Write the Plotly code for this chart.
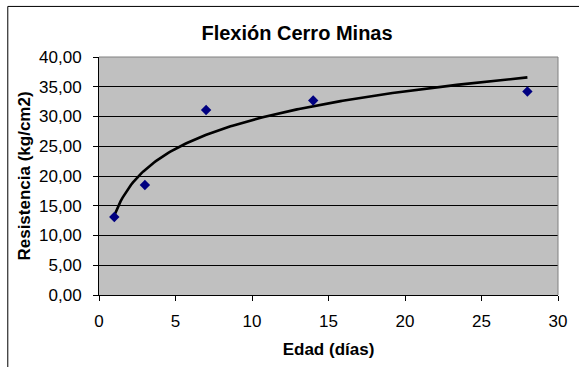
import numpy as np
import plotly.graph_objects as go

# Flexural strength test results, Cerro Minas
edad_dias = [1, 3, 7, 14, 28]
resistencia = [13.1, 18.5, 31.1, 32.7, 34.2]

x_ticks = [0, 5, 10, 15, 20, 25, 30]
y_ticks = [0, 5, 10, 15, 20, 25, 30, 35, 40]

# Logarithmic trend line y = a*ln(x) + b fitted to the measurements
a, b = np.polyfit(np.log(edad_dias), resistencia, 1)
x_fit = np.linspace(min(edad_dias), max(edad_dias), 200)
y_fit = a * np.log(x_fit) + b

FONT = "Liberation Sans, Arial, sans-serif"

fig = go.Figure()
fig.add_trace(go.Scatter(
    x=x_fit, y=y_fit, mode="lines",
    line=dict(color="black", width=2.6),
    hoverinfo="skip", showlegend=False,
))
fig.add_trace(go.Scatter(
    x=edad_dias, y=resistencia, mode="markers",
    marker=dict(symbol="diamond", size=8, color="#000080"),
    showlegend=False,
))

fig.update_layout(
    width=579, height=367,
    margin=dict(l=99, r=17, t=57, b=70),
    paper_bgcolor="white",
    plot_bgcolor="#C0C0C0",
    separators=",.",
    font=dict(family=FONT, size=17, color="black"),
    title=dict(
        text="<b>Flexión Cerro Minas</b>",
        x=0.513, xref="container", xanchor="center",
        y=1 - 33 / 367, yref="container", yanchor="middle",
        font=dict(family=FONT, size=20, color="black"),
    ),
    xaxis=dict(
        range=[0, 30], tickvals=x_ticks,
        showgrid=False, zeroline=False,
        showline=True, linecolor="black", linewidth=1,
        ticks="outside", ticklen=5, tickcolor="black",
        ticklabelstandoff=6,
        title=dict(text="<b>Edad (días)</b>", standoff=12,
                   font=dict(family=FONT, size=17)),
    ),
    yaxis=dict(
        range=[0, 40], tickvals=y_ticks, tickformat=".2f",
        showgrid=True, gridcolor="black", gridwidth=1,
        zeroline=False,
        showline=True, linecolor="black", linewidth=1,
        ticks="outside", ticklen=5, tickcolor="black",
        ticklabelstandoff=8,
        title=dict(text="<b>Resistencia (kg/cm2)</b>", standoff=4,
                   font=dict(family=FONT, size=17)),
    ),
    shapes=[
        # plot-area frame on the top and right sides
        dict(type="line", xref="paper", yref="paper", x0=0, y0=1, x1=1, y1=1,
             line=dict(color="#808080", width=1)),
        dict(type="line", xref="paper", yref="paper", x0=1, y0=0, x1=1, y1=1,
             line=dict(color="#808080", width=1)),
        # chart border
        dict(type="rect", xref="paper", yref="paper",
             x0=-92 / 463, y0=-2, x1=2, y1=291 / 240,
             line=dict(color="black", width=1), fillcolor="rgba(0,0,0,0)"),
    ],
)

fig.write_html("out.html")
